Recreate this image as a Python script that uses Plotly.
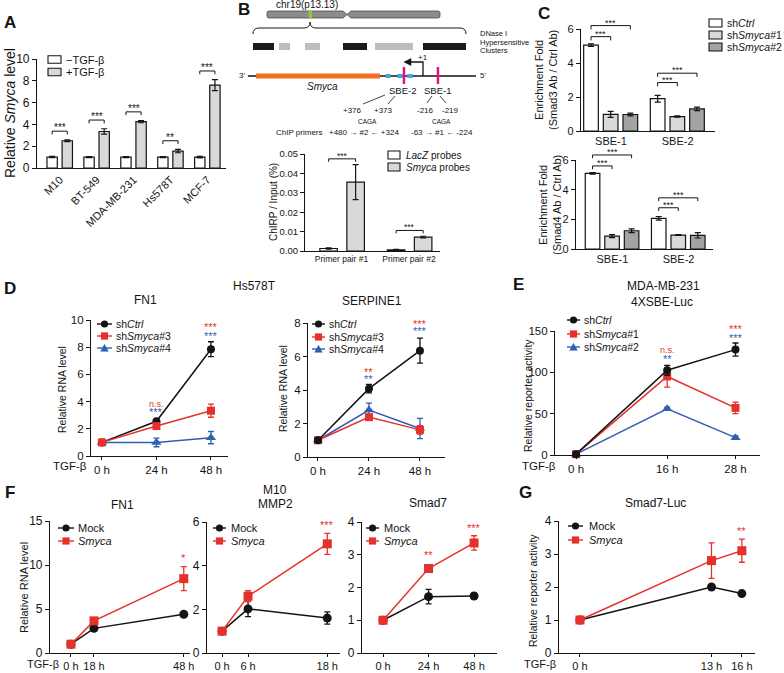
import plotly.graph_objects as go

W, H = 784, 673
FONT = "Liberation Sans, Arial, Helvetica, sans-serif"
BLACK = "#141414"
RED = "#e5312b"
BLUE = "#2f5fb3"
G1 = "#d9d9d9"
G2 = "#a3a3a3"

# ---------------- data ----------------
# A
a_cells = ["M10", "BT-549", "MDA-MB-231", "Hs578T", "MCF-7"]
a_minus = [1.0, 1.0, 1.0, 1.0, 1.0]
a_minus_err = [0.06, 0.05, 0.04, 0.05, 0.07]
a_plus = [2.5, 3.35, 4.25, 1.55, 7.6]
a_plus_err = [0.08, 0.25, 0.1, 0.15, 0.5]
a_sig = ["***", "***", "***", "**", "***"]

# B
b_pairs = ["Primer pair #1", "Primer pair #2"]
b_lacz = [0.0013, 0.0006]
b_lacz_err = [0.0003, 0.0002]
b_smyca = [0.0355, 0.0072]
b_smyca_err = [0.009, 0.0004]
b_sig = ["***", "***"]

# C
c_sites = ["SBE-1", "SBE-2"]
c3_ctrl = [5.05, 1.9]
c3_ctrl_err = [0.07, 0.2]
c3_sh1 = [0.98, 0.85]
c3_sh1_err = [0.18, 0.04]
c3_sh2 = [0.97, 1.3]
c3_sh2_err = [0.08, 0.1]
c4_ctrl = [5.1, 2.07]
c4_ctrl_err = [0.05, 0.12]
c4_sh1 = [0.87, 0.94]
c4_sh1_err = [0.1, 0.03]
c4_sh2 = [1.23, 0.92]
c4_sh2_err = [0.12, 0.18]

# D (Hs578T)
d_hours = [0, 24, 48]
d_labels = ["0 h", "24 h", "48 h"]
d_fn1_ctrl = [1.0, 2.55, 7.85]
d_fn1_ctrl_err = [0.05, 0.12, 0.55]
d_fn1_sh3 = [1.0, 2.2, 3.33]
d_fn1_sh3_err = [0.05, 0.1, 0.48]
d_fn1_sh4 = [1.0, 1.0, 1.35]
d_fn1_sh4_err = [0.05, 0.32, 0.45]
d_ser_ctrl = [1.0, 4.08, 6.35]
d_ser_ctrl_err = [0.05, 0.25, 0.75]
d_ser_sh3 = [1.0, 2.38, 1.62]
d_ser_sh3_err = [0.05, 0.15, 0.25]
d_ser_sh4 = [1.0, 2.8, 1.7]
d_ser_sh4_err = [0.05, 0.42, 0.6]

# E (MDA-MB-231, 4XSBE-Luc)
e_hours = [0, 16, 28]
e_labels = ["0 h", "16 h", "28 h"]
e_ctrl = [1, 102.5, 127.5]
e_ctrl_err = [1, 6, 8]
e_sh1 = [1, 95, 57]
e_sh1_err = [1, 13, 7]
e_sh2 = [1, 56, 21]
e_sh2_err = [1, 2, 2]

# F (M10)
f_fn1_labels = ["0 h", "18 h", "48 h"]
f_fn1_slots = [0, 1, 4.9]          # display slots of the time points
f_fn1_mock = [1.0, 2.8, 4.4]
f_fn1_mock_err = [0.05, 0.3, 0.15]
f_fn1_smyca = [1.0, 3.65, 8.45]
f_fn1_smyca_err = [0.05, 0.15, 1.37]
f_mmp2_labels = ["0 h", "6 h", "18 h"]
f_mmp2_slots = [0, 1, 4.05]
f_mmp2_mock = [1.0, 2.02, 1.6]
f_mmp2_mock_err = [0.05, 0.35, 0.28]
f_mmp2_smyca = [1.0, 2.6, 5.0]
f_mmp2_smyca_err = [0.05, 0.25, 0.48]
f_smad7_hours = [0, 24, 48]
f_smad7_labels = ["0 h", "24 h", "48 h"]
f_smad7_mock = [1.0, 1.72, 1.74]
f_smad7_mock_err = [0.03, 0.22, 0.08]
f_smad7_smyca = [1.0, 2.58, 3.36]
f_smad7_smyca_err = [0.03, 0.1, 0.22]

# G (Smad7-Luc)
g_hours = [0, 13, 16]
g_labels = ["0 h", "13 h", "16 h"]
g_mock = [1.0, 2.0, 1.8]
g_mock_err = [0.03, 0.04, 0.04]
g_smyca = [1.0, 2.8, 3.1]
g_smyca_err = [0.03, 0.54, 0.35]

# ---------------- axes geometry (pixels) ----------------
AX = {
    1: ((37, 226), (59, 168), [-0.62, 4.5], [0, 10], 2),
    2: ((305, 440), (154, 251), [-0.54, 1.46], [0, 0.05], 0.01),
    3: ((581, 715), (29, 131), [-0.45, 1.56], [0, 6], 2),
    4: ((576, 713), (160, 249), [-0.55, 1.52], [0, 6], 2),
    5: ((91, 228), (320, 456), [-4.8, 55.5], [0, 10], 2),
    6: ((308, 445), (323, 457), [-4.7, 59.8], [0, 8], 2),
    7: ((555, 760), (331, 455), [-3.7, 32.3], [0, 150], 50),
    8: ((50, 190), (521, 653), [-0.91, 5.17], [0, 15], 5),
    9: ((207, 340), (522, 653), [-0.58, 4.54], [0, 6], 2),
    10: ((362, 497), (522, 653), [-11.1, 60.1], [0, 4], 1),
    11: ((559, 755), (521, 653), [-2.07, 17.3], [0, 4], 1),
}


def to_px(n, x, y):
    (xp0, xp1), (yp0, yp1), xr, yr, _ = AX[n]
    px = xp0 + (x - xr[0]) / (xr[1] - xr[0]) * (xp1 - xp0)
    py = yp1 - (y - yr[0]) / (yr[1] - yr[0]) * (yp1 - yp0)
    return px, py


# ---------------- figure ----------------
fig = go.Figure()
shapes, annots = [], []
OV = ("x12", "y12")  # pixel overlay axes


def S(**kw):
    shapes.append(kw)


def pline(x0, y0, x1, y1, color=BLACK, width=1.0):
    S(type="line", xref=OV[0], yref=OV[1], x0=x0, y0=y0, x1=x1, y1=y1,
      line=dict(color=color, width=width), layer="above")


def prect(x0, y0, x1, y1, fill, lc=None, lw=0):
    S(type="rect", xref=OV[0], yref=OV[1], x0=x0, y0=y0, x1=x1, y1=y1,
      fillcolor=fill, line=dict(color=lc or fill, width=lw), layer="above")


def ppath(d, fill=None, lc=BLACK, lw=1.0):
    S(type="path", xref=OV[0], yref=OV[1], path=d,
      fillcolor=fill or "rgba(0,0,0,0)", line=dict(color=lc, width=lw), layer="above")


def ptext(x, y, t, size, color=BLACK, xa="center", ya="middle", angle=0, yshift=0):
    annots.append(dict(xref=OV[0], yref=OV[1], x=x, y=y, text=t, showarrow=False,
                       xanchor=xa, yanchor=ya, textangle=angle, yshift=yshift,
                       font=dict(family=FONT, size=size, color=color)))


def marker_shape(cx, cy, sym, color, r=3.6):
    if sym == "circle":
        S(type="circle", xref=OV[0], yref=OV[1], x0=cx - r, x1=cx + r, y0=cy - r, y1=cy + r,
          fillcolor=color, line=dict(width=0), layer="above")
    elif sym == "square":
        prect(cx - r, cy - r, cx + r, cy + r, color)
    else:
        ppath(f"M {cx},{cy - r - 0.5} L {cx + r + 0.5},{cy + r} L {cx - r - 0.5},{cy + r} Z",
              fill=color, lc=color, lw=0.1)


def line_legend(x0, x1, ys, names, colors, syms, tx, size):
    for y, n, c, s in zip(ys, names, colors, syms):
        pline(x0, y, x1, y, c, 1.4)
        marker_shape((x0 + x1) / 2, y, s, c)
        ptext(tx, y, n, size, xa="left")


def box_legend(x0, x1, ys, h, names, fills, tx, size):
    for y, n, f in zip(ys, names, fills):
        prect(x0, y - h / 2, x1, y + h / 2, f, BLACK, 1.1)
        ptext(tx, y, n, size, xa="left")


def ax_id(n):
    return ("x", "y") if n == 1 else (f"x{n}", f"y{n}")


def bracket(n, x0, x1, y, h, label, size=9):
    # bracket drawn on the pixel overlay from data values of axis n (no clipping)
    ax0, ay = to_px(n, x0, y)
    ax1, _ = to_px(n, x1, y)
    _, ayl = to_px(n, x0, y - h)
    ppath(f"M {ax0},{ayl} L {ax0},{ay} L {ax1},{ay} L {ax1},{ayl}", lw=1)
    ptext((ax0 + ax1) / 2, ay, label, size, ya="bottom", yshift=-4)


def sig(n, x, y, label, color, size=11):
    px, py = to_px(n, x, y)
    ptext(px, py, label, size, color=color)


def add_bar(n, y, err, fill, offset, width):
    xr, yr = ax_id(n)
    fig.add_trace(go.Bar(x=list(range(len(y))), y=y, offset=offset, width=width,
                         marker=dict(color=fill, line=dict(color=BLACK, width=1.2)),
                         error_y=dict(type="data", array=err, visible=True, color=BLACK,
                                      thickness=1.2, width=3),
                         xaxis=xr, yaxis=yr, showlegend=False, hoverinfo="skip"))


def add_line(n, x, y, err, color, symbol, size=8):
    xr, yr = ax_id(n)
    fig.add_trace(go.Scatter(x=x, y=y, mode="lines+markers", line=dict(color=color, width=1.5),
                             marker=dict(symbol=symbol, size=size, color=color),
                             error_y=dict(type="data", array=err, visible=True, color=color,
                                          thickness=1.3, width=3),
                             xaxis=xr, yaxis=yr, showlegend=False, cliponaxis=False,
                             hoverinfo="skip"))


# ---- A ----
A_OFF = (-0.35, 0.06)
A_W = 0.28
add_bar(1, a_minus, a_minus_err, "white", A_OFF[0], A_W)
add_bar(1, a_plus, a_plus_err, G1, A_OFF[1], A_W)
for i, s in enumerate(a_sig):
    bracket(1, i + A_OFF[0] + A_W / 2, i + A_OFF[1] + A_W / 2,
            a_plus[i] + a_plus_err[i] + 0.8, 0.3, s, size=10)

# ---- B bars ----
B_OFF = (-0.32, 0.08)
B_W = 0.26
add_bar(2, b_lacz, b_lacz_err, "white", B_OFF[0], B_W)
add_bar(2, b_smyca, b_smyca_err, G1, B_OFF[1], B_W)
for i, s in enumerate(b_sig):
    bracket(2, i + B_OFF[0] + B_W / 2, i + B_OFF[1] + B_W / 2,
            b_smyca[i] + b_smyca_err[i] + 0.003, 0.0015, s, size=8.5)

# ---- C bars ----
C_OFF = (-0.41, -0.115, 0.18)
C_W = 0.22
for n, groups in ((3, [(c3_ctrl, c3_ctrl_err), (c3_sh1, c3_sh1_err), (c3_sh2, c3_sh2_err)]),
                  (4, [(c4_ctrl, c4_ctrl_err), (c4_sh1, c4_sh1_err), (c4_sh2, c4_sh2_err)])):
    for (v, e), fill, off in zip(groups, ["white", G1, G2], C_OFF):
        add_bar(n, v, e, fill, off, C_W)
c_centers = [o + C_W / 2 for o in C_OFF]
C_LEVELS = {3: ([5.55, 2.85], [6.2, 3.4]), 4: ([5.6, 2.78], [6.34, 3.45])}
for n, (inner, outer) in C_LEVELS.items():
    for i in range(2):
        bracket(n, i + c_centers[0], i + c_centers[1], inner[i], 0.22, "***", size=9)
        bracket(n, i + c_centers[0], i + c_centers[2], outer[i], 0.22, "***", size=9)

# ---- D ----
add_line(5, d_hours, d_fn1_sh4, d_fn1_sh4_err, BLUE, "triangle-up", 9)
add_line(5, d_hours, d_fn1_ctrl, d_fn1_ctrl_err, BLACK, "circle", 8)
add_line(5, d_hours, d_fn1_sh3, d_fn1_sh3_err, RED, "square", 8)
add_line(6, d_hours, d_ser_sh4, d_ser_sh4_err, BLUE, "triangle-up", 9)
add_line(6, d_hours, d_ser_sh3, d_ser_sh3_err, RED, "square", 8)
add_line(6, d_hours, d_ser_ctrl, d_ser_ctrl_err, BLACK, "circle", 8)
sig(5, 24, 3.85, "n.s.", RED, 9)
sig(5, 24, 3.2, "***", BLUE)
sig(5, 48, 9.45, "***", RED)
sig(5, 48, 8.85, "***", BLUE)
sig(6, 24, 5.1, "**", RED)
sig(6, 24, 4.68, "**", BLUE)
sig(6, 48, 7.92, "***", RED)
sig(6, 48, 7.52, "***", BLUE)

# ---- E ----
add_line(7, e_hours, e_sh2, e_sh2_err, BLUE, "triangle-up", 9)
add_line(7, e_hours, e_sh1, e_sh1_err, RED, "square", 8)
add_line(7, e_hours, e_ctrl, e_ctrl_err, BLACK, "circle", 8)
sig(7, 16, 127, "n.s.", RED, 9)
sig(7, 16, 116, "**", BLUE)
sig(7, 28, 152, "***", RED)
sig(7, 28, 142, "***", BLUE)

# ---- F ----
add_line(8, f_fn1_slots, f_fn1_mock, f_fn1_mock_err, BLACK, "circle", 9)
add_line(8, f_fn1_slots, f_fn1_smyca, f_fn1_smyca_err, RED, "square", 9)
add_line(9, f_mmp2_slots, f_mmp2_mock, f_mmp2_mock_err, BLACK, "circle", 9)
add_line(9, f_mmp2_slots, f_mmp2_smyca, f_mmp2_smyca_err, RED, "square", 9)
add_line(10, f_smad7_hours, f_smad7_mock, f_smad7_mock_err, BLACK, "circle", 9)
add_line(10, f_smad7_hours, f_smad7_smyca, f_smad7_smyca_err, RED, "square", 9)
sig(8, f_fn1_slots[2], 10.8, "*", RED)
sig(9, f_mmp2_slots[2], 5.86, "***", RED)
sig(10, 24, 3.0, "**", RED)
sig(10, 48, 3.82, "***", RED)

# ---- G ----
add_line(11, g_hours, g_mock, g_mock_err, BLACK, "circle", 9)
add_line(11, g_hours, g_smyca, g_smyca_err, RED, "square", 9)
sig(11, 16, 3.7, "**", RED)

# overlay dummy trace
fig.add_trace(go.Scatter(x=[0], y=[0], mode="markers", marker=dict(opacity=0),
                         xaxis="x12", yaxis="y12", showlegend=False, hoverinfo="skip"))

# ---------------- axes ----------------
XT = {
    1: (list(range(5)), a_cells, 11, -45),
    2: ([0, 1], b_pairs, 8.5, 0),
    3: ([0, 1], c_sites, 11, 0),
    4: ([0, 1], c_sites, 11, 0),
    5: (d_hours, d_labels, 11.5, 0),
    6: (d_hours, d_labels, 11.5, 0),
    7: (e_hours, e_labels, 11.5, 0),
    8: (f_fn1_slots, f_fn1_labels, 11, 0),
    9: (f_mmp2_slots, f_mmp2_labels, 11, 0),
    10: (f_smad7_hours, f_smad7_labels, 11, 0),
    11: (g_hours, g_labels, 11, 0),
}
YFS = {1: 12, 2: 9.5, 3: 11, 4: 11, 5: 11.5, 6: 11.5, 7: 11.5, 8: 12, 9: 12, 10: 12, 11: 12}

lay = {}
for n, (xp, yp, xr, yr, dt) in AX.items():
    xk = "xaxis" if n == 1 else f"xaxis{n}"
    yk = "yaxis" if n == 1 else f"yaxis{n}"
    xa, ya = ax_id(n)
    common = dict(showline=True, linecolor=BLACK, linewidth=1.2, showgrid=False,
                  zeroline=False, fixedrange=True, automargin=False, tickcolor=BLACK)
    tv, tt, tfs, tang = XT[n]
    lay[xk] = dict(common, domain=[xp[0] / W, xp[1] / W], range=xr, anchor=ya,
                   tickmode="array", tickvals=tv, ticktext=tt, tickangle=tang,
                   ticks="" if n <= 4 else "outside", ticklen=3, tickwidth=1.2,
                   tickfont=dict(family=FONT, size=tfs, color=BLACK))
    lay[yk] = dict(common, domain=[1 - yp[1] / H, 1 - yp[0] / H], range=yr, anchor=xa,
                   dtick=dt, tick0=0, ticks="outside", ticklen=4, tickwidth=1.2,
                   tickformat=".2f" if n == 2 else None,
                   tickfont=dict(family=FONT, size=YFS[n], color=BLACK))
lay["xaxis12"] = dict(domain=[0, 1], range=[0, W], anchor="y12", visible=False, fixedrange=True)
lay["yaxis12"] = dict(domain=[0, 1], range=[H, 0], anchor="x12", visible=False, fixedrange=True)

# ---------------- texts, legends, diagram ----------------
L = 17
for t, x, y in (("A", 10, 22), ("B", 244, 9), ("C", 544, 13), ("D", 10, 288),
                ("E", 518, 284), ("F", 10, 492), ("G", 525, 492)):
    ptext(x, y, f"<b>{t}</b>", L)

# y titles
ptext(10, 113, "Relative <i>Smyca</i> level", 14, angle=-90)
ptext(273, 202, "ChIRP / Input (%)", 10, angle=-90)
ptext(546, 80, "Enrichment Fold<br>(Smad3 Ab / Ctrl Ab)", 11, angle=-90)
ptext(550, 205, "Enrichment Fold<br>(Smad4 Ab / Ctrl Ab)", 11, angle=-90)
ptext(62, 390, "Relative RNA level", 10.5, angle=-90)
ptext(283, 389, "Relative RNA level", 10.5, angle=-90)
ptext(528, 396, "Relative reporter activity", 10.5, angle=-90)
ptext(24, 588, "Relative RNA level", 11, angle=-90)
ptext(533, 591, "Relative reporter activity", 10.5, angle=-90)

# panel titles
ptext(254, 286, "Hs578T", 12)
ptext(145, 300, "FN1", 12)
ptext(372, 301, "SERPINE1", 12)
ptext(663, 286, "MDA-MB-231", 12)
ptext(662, 302, "4XSBE-Luc", 12)
ptext(275, 490, "M10", 12)
ptext(122, 505, "FN1", 12)
ptext(275, 504, "MMP2", 12)
ptext(428, 503, "Smad7", 12)
ptext(655, 503, "Smad7-Luc", 12)

# TGF-β labels under time axes
ptext(89, 466, "TGF-β", 11.5, xa="right")
ptext(558, 466, "TGF-β", 11.5, xa="right")
ptext(61, 664, "TGF-β", 11, xa="right")
ptext(558, 664, "TGF-β", 11, xa="right")

# legends
box_legend(48, 61, [59.5, 72], 7.5, ["−TGF-β", "+TGF-β"], ["white", G1], 64, 11)
box_legend(388, 400, [155, 167], 8, ["<i>LacZ</i> probes", "<i>Smyca</i> probes"], ["white", G1], 404, 10)
box_legend(709, 722, [23, 35, 47], 8, ["sh<i>Ctrl</i>", "sh<i>Smyca</i>#1", "sh<i>Smyca</i>#2"],
           ["white", G1, G2], 725, 10.5)
line_legend(97, 112, [324, 336, 348], ["sh<i>Ctrl</i>", "sh<i>Smyca</i>#3", "sh<i>Smyca</i>#4"],
            [BLACK, RED, BLUE], ["circle", "square", "triangle"], 114, 10.5)
line_legend(312, 325, [324, 337, 349], ["sh<i>Ctrl</i>", "sh<i>Smyca</i>#3", "sh<i>Smyca</i>#4"],
            [BLACK, RED, BLUE], ["circle", "square", "triangle"], 327, 10.5)
line_legend(567, 580, [320, 334, 347], ["sh<i>Ctrl</i>", "sh<i>Smyca</i>#1", "sh<i>Smyca</i>#2"],
            [BLACK, RED, BLUE], ["circle", "square", "triangle"], 582, 10.5)
line_legend(58, 74, [528, 541], ["Mock", "<i>Smyca</i>"], [BLACK, RED], ["circle", "square"], 76, 11)
line_legend(213, 226, [528, 541], ["Mock", "<i>Smyca</i>"], [BLACK, RED], ["circle", "square"], 229, 11)
line_legend(366, 379, [528, 541], ["Mock", "<i>Smyca</i>"], [BLACK, RED], ["circle", "square"], 382, 11)
line_legend(568, 583, [526, 540], ["Mock", "<i>Smyca</i>"], [BLACK, RED], ["circle", "square"], 587, 11)

# B diagram
ptext(307, 4.5, "chr19(p13.13)", 10)
ppath("M 269,11 L 343,11 L 347,14.5 L 351,11 L 438,11 Q 440,11 440,13 L 440,16 Q 440,18 438,18 "
      "L 351,18 L 347,14.5 L 343,18 L 269,18 Q 267,18 267,16 L 267,13 Q 267,11 269,11 Z",
      fill="#8c8c8c", lc="#4a4a4a", lw=0.8)
prect(308.5, 11, 312, 18, "#8cc63f")
ppath("M 253,34 Q 253,28 259,28 L 304,28 Q 310,28 310,22 Q 310,28 316,28 L 460,28 Q 466,28 466,34", lw=1)
for x0, x1, c in ((253, 274, "#1f1a17"), (279, 290, "#bdbdbd"), (305, 320, "#bdbdbd"),
                  (343, 367, "#1f1a17"), (375, 413, "#bdbdbd"), (423, 466, "#1f1a17")):
    prect(x0, 43, x1, 50, c)
ptext(478, 33.5, "DNase I", 7.5, xa="left")
ptext(478, 42, "Hypersensitive", 7.5, xa="left")
ptext(478, 50.5, "Clusters", 7.5, xa="left")
pline(248, 76, 476, 76, BLACK, 1.5)
ptext(247, 75, "3'", 8, xa="right")
ptext(478, 75, "5'", 8, xa="left")
prect(256, 73.5, 380, 78.5, "#f36f21")
for x0, x1 in ((385.7, 390.7), (397.3, 402.7), (407.3, 412.7)):
    prect(x0, 74, x1, 78, "#3fa9e0")
prect(402.7, 67, 405.2, 84, "#e5127d")
prect(436.7, 67, 439.2, 84, "#e5127d")
ppath("M 423,76 L 423,62 L 410,62", lw=1.3)
ppath("M 404,62 L 411,58.5 L 411,65.5 Z", fill=BLACK, lc=BLACK, lw=0.5)
ptext(423, 57, "+1", 8)
ptext(322, 86, "<i>Smyca</i>", 10)
ptext(402, 90, "SBE-2", 9.5)
ptext(437, 90, "SBE-1", 9.5)
pline(385, 95, 363, 104, BLACK, 0.8)
pline(395, 96, 388, 104, BLACK, 0.8)
pline(432, 96, 427, 103, BLACK, 0.8)
pline(440, 96, 446, 103, BLACK, 0.8)
ptext(352, 110, "+376", 8)
ptext(383, 110, "+373", 8)
ptext(425, 110, "-216", 8)
ptext(450, 110, "-219", 8)
ptext(367, 121, "CAGA", 6.5)
ptext(441, 121, "CAGA", 6.5)
ptext(299, 132, "ChIP primers", 8)
ptext(364, 132, "+480 → #2 ← +324", 8)
ptext(442, 132, "-63 → #1 ← -224", 8)

fig.update_layout(
    width=W, height=H, margin=dict(l=0, r=0, t=0, b=0),
    paper_bgcolor="white", plot_bgcolor="rgba(0,0,0,0)",
    showlegend=False, barmode="overlay",
    font=dict(family=FONT, color=BLACK),
    shapes=shapes, annotations=annots, **lay)

fig.write_html("out.html", config={"displayModeBar": False},
               post_script="document.body.style.margin='0';document.body.style.padding='0';"
                           "document.body.style.overflow='hidden';")
